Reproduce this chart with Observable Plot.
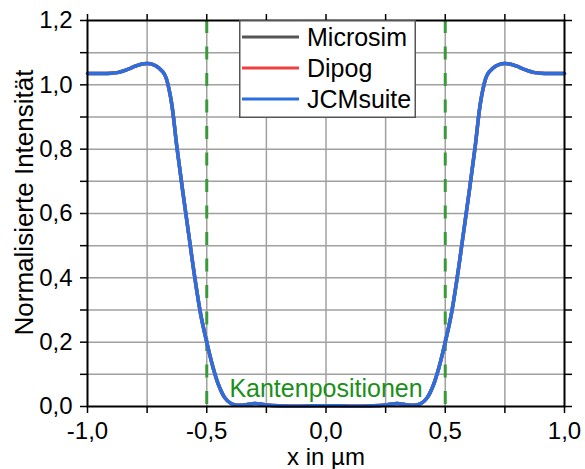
<!DOCTYPE html>
<html><head><meta charset="utf-8">
<script src="https://cdn.jsdelivr.net/npm/d3@7"></script>
<script src="https://cdn.jsdelivr.net/npm/@observablehq/plot@0.6"></script>
<style>
body{margin:0;background:#fff;font-family:"Liberation Sans",Arial,sans-serif;}
#wrap{position:relative;width:585px;height:469px;}
#legend{position:absolute;left:239px;top:20px;}
</style></head><body><div id="wrap"></div>
<script>
const xPos = [-1.0,-0.95,-0.9,-0.875,-0.85,-0.825,-0.8,-0.775,-0.75,-0.725,-0.7,-0.675,-0.65,-0.625,-0.6,-0.575,-0.55,-0.525,-0.5,-0.475,-0.45,-0.425,-0.4,-0.375,-0.35,-0.325,-0.3,-0.275,-0.25,-0.2,-0.15,-0.1,-0.05,0,
  0.05,0.1,0.15,0.2,0.25,0.275,0.3,0.325,0.35,0.375,0.4,0.425,0.45,0.475,0.5,0.525,0.55,0.575,0.6,0.625,0.65,0.675,0.7,0.725,0.75,0.775,0.8,0.825,0.85,0.875,0.9,0.95,1.0];
const jcmsuite = [1.035,1.035,1.036,1.038,1.043,1.050,1.058,1.064,1.066,1.063,1.052,1.030,0.955,0.805,0.665,0.532,0.400,0.285,0.200,0.125,0.066,0.028,0.010,0.004,0.004,0.007,0.009,0.008,0.005,0.002,0.001,0.001,0.002,0.002,
  0.002,0.001,0.001,0.002,0.005,0.008,0.009,0.007,0.004,0.004,0.010,0.028,0.066,0.125,0.200,0.285,0.400,0.532,0.665,0.805,0.955,1.030,1.052,1.063,1.066,1.064,1.058,1.050,1.043,1.038,1.036,1.035,1.035];
const dipog = jcmsuite.slice();
const microsim = jcmsuite.slice();
const edges = [-0.5, 0.5];
const seriesNames = ["Microsim", "Dipog", "JCMsuite"];
const seriesColors = ["#555555", "#ee4040", "#2a6fdf"];
const xTicks = [-1, -0.75, -0.5, -0.25, 0, 0.25, 0.5, 0.75, 1];
const yTicks = [0, 0.1, 0.2, 0.3, 0.4, 0.5, 0.6, 0.7, 0.8, 0.9, 1.0, 1.1, 1.2];
const annotation = "Kantenpositionen";
const xLabel = "x in µm";
const yLabel = "Normalisierte Intensität";

const seriesValues = [microsim, dipog, jcmsuite];
const rows = [];
seriesNames.forEach((s, i) => xPos.forEach((x, j) => rows.push({series: s, x, y: seriesValues[i][j]})));

const fmt = d => d.toFixed(1).replace(".", ",");
const xFmt = d => Math.abs(d * 2 - Math.round(d * 2)) < 1e-6 ? fmt(d) : "";
const yFmt = d => Math.abs(d * 5 - Math.round(d * 5)) < 1e-6 ? fmt(d) : "";

const chart = Plot.plot({
  width: 585, height: 469,
  marginLeft: 87, marginRight: 21, marginTop: 20, marginBottom: 63,
  style: {fontFamily: "'Liberation Sans', Arial, sans-serif", fontSize: "24px", color: "#000", background: "#fff"},
  x: {domain: [-1, 1]},
  y: {domain: [0, 1.2]},
  color: {domain: seriesNames, range: seriesColors},
  marks: [
    Plot.gridX(xTicks.filter(t => t > -1 && t < 1), {stroke: "#a0a0a0", strokeOpacity: 1, strokeWidth: 1.5}),
    Plot.gridY(yTicks.filter(t => t > 0 && t < 1.2), {stroke: "#a0a0a0", strokeOpacity: 1, strokeWidth: 1.5}),
    Plot.ruleX(edges, {stroke: "#3a9a3a", strokeWidth: 3, strokeDasharray: "13,13.5"}),
    Plot.line(rows, {x: "x", y: "y", z: "series", stroke: "series", strokeWidth: 3.5, curve: "catmull-rom"}),
    Plot.frame({stroke: "#000", strokeWidth: 2}),
    Plot.axisX(xTicks, {anchor: "bottom", tickFormat: xFmt, tickSize: 7, tickPadding: 8, label: null, strokeWidth: 1.5}),
    Plot.axisX(xTicks, {anchor: "top", tickFormat: () => "", tickSize: 7, label: null, strokeWidth: 1.5}),
    Plot.axisY(yTicks, {anchor: "left", tickFormat: yFmt, tickSize: 7, tickPadding: 8, label: null, strokeWidth: 1.5}),
    Plot.axisY(yTicks, {anchor: "right", tickFormat: () => "", tickSize: 7, label: null, strokeWidth: 1.5}),
    Plot.text([annotation], {x: 0, y: 0.03, text: d => d, fill: "#1a8f1a", fontSize: 25, lineAnchor: "bottom"}),
    Plot.text([xLabel], {frameAnchor: "bottom", dy: 58, lineAnchor: "bottom", textAnchor: "middle", text: d => d, fontSize: 24}),
    Plot.text([yLabel], {frameAnchor: "left", dx: -55, dy: -11, rotate: -90, lineAnchor: "bottom", textAnchor: "middle", text: d => d, fontSize: 26})
  ]
});
const wrap = document.getElementById("wrap");
wrap.appendChild(chart);

// legend overlay
const ns = "http://www.w3.org/2000/svg";
const lg = document.createElementNS(ns, "svg");
lg.setAttribute("id", "legend");
lg.setAttribute("width", 177);
lg.setAttribute("height", 98);
let html = `<rect x="0.75" y="0.75" width="175.5" height="96.5" fill="#fff" stroke="#555" stroke-width="1.5"/>`;
seriesNames.forEach((s, i) => {
  const cy = 17 + i * 31;
  html += `<line x1="3" x2="60" y1="${cy}" y2="${cy}" stroke="${seriesColors[i]}" stroke-width="3"/>`;
  html += `<text x="68" y="${cy + 9}" font-family="'Liberation Sans', Arial, sans-serif" font-size="25" fill="#000">${s}</text>`;
});
lg.innerHTML = html;
wrap.appendChild(lg);
</script></body></html>
